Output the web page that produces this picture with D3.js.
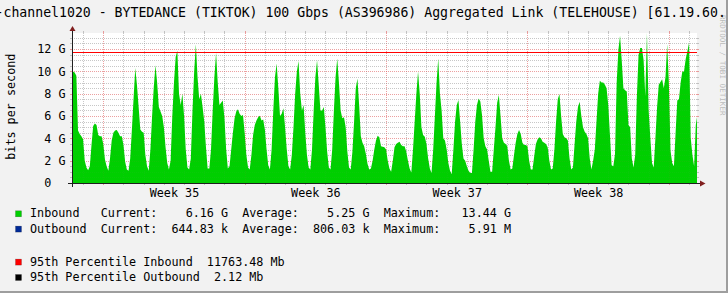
<!DOCTYPE html>
<html>
<head>
<meta charset="utf-8">
<script src="https://cdn.jsdelivr.net/npm/d3@7"></script>
<style>
  html, body { margin: 0; padding: 0; background: #f2f2f2; }
  svg { display: block; }
  text { font-family: 'DejaVu Sans Mono', monospace; white-space: pre; }
</style>
</head>
<body>
<svg id="chart" width="728" height="293"></svg>
<script>
// ---- data ---------------------------------------------------------------
const title = '-channel1020 - BYTEDANCE (TIKTOK) 100 Gbps (AS396986) Aggregated Link (TELEHOUSE) [61.19.60.'
const watermark = 'RRDTOOL / TOBI OETIKER'
const yAxisTitle = 'bits per second'

const viewStart = new Date(2024, 7, 24, 10, 50)
const viewEnd = new Date(2024, 8, 24, 9, 26)

// inbound traffic in Gbit/s, one sample every 2 hours from 24 Aug 10:00
const seriesStart = new Date(2024, 7, 24, 10, 0)
const stepHours = 2
const inbound = [
  // Sat 24 Aug (10h..22h)
  10.0, 10.0, 9.9, 9.6, 4.7, 4.4, 4.2,
  // Sun 25
  3.9, 2.0, 1.4, 1.15, 1.5, 3.4, 5.1, 5.34, 5.2, 4.3, 4.2, 4.2,
  // Mon 26
  3.5, 2.1, 1.5, 1.1, 2.2, 3.8, 4.5, 4.7, 4.74, 4.5, 4.2, 4.2,
  // Tue 27
  3.4, 1.9, 1.2, 1.1, 2.2, 4.8, 7.6, 10.3, 8.8, 6.8, 4.8, 4.6,
  // Wed 28
  4.5, 2.5, 1.5, 1.1, 3.0, 6.0, 8.6, 10.56, 9.0, 6.8, 6.4, 6.0,
  // Thu 29
  5.0, 3.2, 1.8, 1.2, 2.0, 6.0, 9.0, 11.3, 11.85, 8.0, 7.0, 8.0,
  // Fri 30
  6.0, 3.0, 1.4, 1.2, 2.2, 6.5, 10.0, 12.44, 9.5, 7.5, 8.0, 6.8,
  // Sat 31
  5.5, 3.2, 1.3, 1.3, 3.0, 6.5, 9.5, 11.67, 9.0, 7.0, 7.2, 7.4,
  // Sun 1 Sep
  5.8, 3.0, 1.3, 1.5, 3.0, 4.5, 5.8, 6.4, 6.6, 6.2, 6.0, 6.1,
  // Mon 2
  4.5, 2.5, 1.4, 1.2, 2.5, 4.3, 5.2, 5.6, 5.9, 6.03, 5.6, 5.7,
  // Tue 3
  4.8, 3.0, 1.6, 1.2, 3.0, 6.5, 9.5, 10.7, 8.5, 6.0, 6.2, 6.7,
  // Wed 4
  5.0, 3.0, 1.5, 1.2, 2.5, 5.0, 8.0, 10.0, 10.93, 8.0, 6.5, 7.0,
  // Thu 5
  4.5, 2.5, 1.4, 1.2, 3.0, 6.5, 9.5, 11.0, 8.8, 6.5, 6.5, 6.8,
  // Fri 6
  5.0, 2.8, 1.4, 1.2, 3.0, 6.5, 9.5, 11.16, 9.0, 6.5, 5.8, 5.9,
  // Sat 7
  5.0, 2.8, 1.4, 1.2, 2.8, 5.5, 8.5, 9.37, 7.0, 4.2, 3.6, 3.3,
  // Sun 8
  2.6, 1.7, 1.2, 1.3, 2.0, 3.0, 3.8, 4.24, 4.1, 3.3, 3.25, 3.2,
  // Mon 9
  3.0, 2.0, 1.3, 1.0, 2.0, 3.2, 3.5, 3.6, 3.7, 3.4, 3.3, 3.3,
  // Tue 10
  2.8, 2.0, 1.3, 0.95, 3.0, 5.5, 8.0, 10.0, 8.0, 5.0, 4.3, 4.15,
  // Wed 11
  3.5, 2.2, 1.3, 0.9, 3.0, 6.0, 9.0, 11.16, 8.0, 6.5, 4.0, 3.8,
  // Thu 12
  3.0, 1.8, 1.1, 0.8, 3.0, 5.5, 7.0, 7.43, 5.5, 3.5, 2.2, 2.0,
  // Fri 13
  1.5, 1.1, 0.9, 0.9, 3.0, 5.5, 7.0, 7.58, 7.3, 6.1, 4.0, 3.3,
  // Sat 14
  3.0, 2.0, 1.0, 1.0, 3.0, 5.0, 7.2, 7.88, 6.0, 4.0, 3.6, 3.5,
  // Sun 15
  3.3, 2.0, 1.2, 1.3, 2.5, 3.6, 4.4, 4.74, 4.4, 3.6, 3.4, 3.4,
  // Mon 16
  3.3, 2.0, 1.2, 1.2, 2.4, 3.5, 3.9, 4.09, 4.0, 3.7, 3.6, 3.5,
  // Tue 17
  3.2, 2.0, 1.2, 1.3, 3.0, 5.5, 7.5, 7.97, 6.0, 4.4, 4.1, 4.0,
  // Wed 18
  3.8, 2.2, 1.2, 1.4, 3.5, 5.5, 6.8, 7.28, 6.0, 5.0, 4.6, 4.4,
  // Thu 19
  4.0, 2.2, 1.2, 2.0, 3.0, 5.5, 8.0, 9.16, 9.0, 9.0, 8.8, 8.5,
  // Fri 20
  7.0, 4.3, 1.6, 1.5, 2.6, 9.0, 11.9, 13.2, 11.0, 8.5, 8.3, 8.2,
  // Sat 21
  5.2, 5.0, 2.2, 1.4, 2.5, 7.8, 11.5, 12.1, 12.1, 11.0, 7.8, 13.44,
  // Sun 22
  6.5, 4.0, 1.8, 1.4, 4.0, 6.8, 8.8, 9.04, 9.3, 8.5, 9.5, 12.44,
  // Mon 23
  9.0, 2.9, 1.8, 1.5, 4.5, 7.4, 7.5, 9.0, 10.0, 10.0, 11.1, 11.8,
  // Tue 24 (0h..10h)
  12.56, 4.0, 2.5, 1.5, 5.2, 6.16
]

const yMax = 13.44
const yTicks = [0, 2, 4, 6, 8, 10, 12]
const yTickLabels = ['0  ', '2 G', '4 G', '6 G', '8 G', '10 G', '12 G']

const percentile95In = 11.76348   // Gbit/s
const percentile95Out = 0.00212   // Gbit/s

const legendNames = ['Inbound', 'Outbound']
const legendColors = ['#00cf00', '#002a97']
const currentValues = ['6.16 G', '644.83 k']
const averageValues = ['5.25 G', '806.03 k']
const maximumValues = ['13.44 G', '5.91 M']
const percentileLabels = ['95th Percentile Inbound  11763.48 Mb', '95th Percentile Outbound  2.12 Mb']
const percentileColors = ['#ff0000', '#000000']

// ---- layout -------------------------------------------------------------
const W = 728, H = 293
const X0 = 72, X1 = 697, Y0 = 183, Y1 = 33
const MINOR = 'rgba(143,143,143,0.45)'
const MAJOR = 'rgba(222,79,79,0.5)'

const svg = d3.select('#chart')

svg.append('rect').attr('width', W).attr('height', H).attr('fill', '#f2f2f2')
svg.append('rect')
  .attr('x', X0).attr('y', Y1)
  .attr('width', X1 - X0).attr('height', Y0 - Y1)
  .attr('fill', '#ffffff')

svg.append('defs').append('clipPath').attr('id', 'plot')
  .append('rect')
  .attr('x', X0).attr('y', Y1)
  .attr('width', X1 - X0).attr('height', Y0 - Y1)

const x = d3.scaleTime().domain([viewStart, viewEnd]).range([X0, X1])
const y = d3.scaleLinear().domain([0, yMax]).range([Y0, Y1])

const points = inbound.map((v, i) => ({
  t: d3.timeHour.offset(seriesStart, i * stepHours),
  v
}))

const hGrid = d3.range(0.5, yMax, 0.5).map(v => ({ p: y(v), major: v % 2 === 0 }))
const vGrid = d3.timeDay.range(d3.timeDay.ceil(viewStart), viewEnd)
  .map(d => ({ p: x(d), major: d.getDay() === 1 }))

// grid: solid 2px stubs outside the canvas, dotted inside
function drawGrid (opacity) {
  const grid = svg.append('g')
    .attr('shape-rendering', 'crispEdges')
    .attr('opacity', opacity)

  vGrid.forEach(({ p, major }) => {
    const col = major ? MAJOR : MINOR
    const xx = Math.round(p) + 0.5
    grid.append('line').attr('x1', xx).attr('x2', xx).attr('y1', Y1 - 2).attr('y2', Y1).attr('stroke', col)
    grid.append('line').attr('x1', xx).attr('x2', xx).attr('y1', Y0).attr('y2', Y0 + 2).attr('stroke', col)
    grid.append('line').attr('x1', xx).attr('x2', xx).attr('y1', Y1).attr('y2', Y0)
      .attr('stroke', col).attr('stroke-dasharray', '1,1')
  })

  hGrid.forEach(({ p, major }) => {
    const col = major ? MAJOR : MINOR
    const yy = Math.round(p) + 0.5
    grid.append('line').attr('x1', X0 - 2).attr('x2', X0).attr('y1', yy).attr('y2', yy).attr('stroke', col)
    grid.append('line').attr('x1', X1).attr('x2', X1 + 2).attr('y1', yy).attr('y2', yy).attr('stroke', col)
    grid.append('line').attr('x1', X0).attr('x2', X1).attr('y1', yy).attr('y2', yy)
      .attr('stroke', col).attr('stroke-dasharray', '1,1')
  })
}

drawGrid(1)

const area = d3.area()
  .x(d => x(d.t))
  .y0(Y0)
  .y1(d => y(d.v))

svg.append('path')
  .datum(points)
  .attr('clip-path', 'url(#plot)')
  .attr('fill', '#00cf00')
  .attr('d', area)

// faint grid showing through the area
drawGrid(0.15)

// percentile rules
svg.append('line')
  .attr('x1', X0).attr('x2', X1)
  .attr('y1', Math.round(y(percentile95In)) + 0.5)
  .attr('y2', Math.round(y(percentile95In)) + 0.5)
  .attr('stroke', percentileColors[0])
  .attr('shape-rendering', 'crispEdges')
svg.append('line')
  .attr('x1', X0).attr('x2', X1)
  .attr('y1', Math.round(y(percentile95Out)) + 0.5)
  .attr('y2', Math.round(y(percentile95Out)) + 0.5)
  .attr('stroke', percentileColors[1])
  .attr('shape-rendering', 'crispEdges')

// axes with arrows
svg.append('line')
  .attr('x1', X0 - 4).attr('x2', X1 + 4).attr('y1', Y0 + 0.5).attr('y2', Y0 + 0.5)
  .attr('stroke', '#1f1f1f').attr('shape-rendering', 'crispEdges')
svg.append('line')
  .attr('x1', X0 + 0.5).attr('x2', X0 + 0.5).attr('y1', Y0 + 4).attr('y2', Y1 - 3)
  .attr('stroke', '#1f1f1f').attr('shape-rendering', 'crispEdges')
svg.append('path')
  .attr('d', `M${X1 + 3},${Y0 - 2.5}L${X1 + 8.5},${Y0 + 0.5}L${X1 + 3},${Y0 + 3.5}Z`)
  .attr('fill', '#801f1f')
svg.append('path')
  .attr('d', `M${X0 - 2.5},${Y1 - 2}L${X0 + 0.5},${Y1 - 7}L${X0 + 3.5},${Y1 - 2}Z`)
  .attr('fill', '#801f1f')

// tick labels
const weekMids = d3.timeMonday.range(d3.timeMonday.floor(viewStart), viewEnd)
  .map(d => d3.timeHour.offset(d, 84))
  .filter(d => d > viewStart && d < viewEnd)

svg.append('g')
  .attr('transform', `translate(0,${Y0})`)
  .call(d3.axisBottom(x).tickValues(weekMids).tickFormat(d3.timeFormat('Week %V')).tickSize(0).tickPadding(6))
  .call(g => g.select('.domain').remove())
  .call(g => g.selectAll('text')
    .attr('font-family', "'DejaVu Sans Mono', monospace")
    .attr('font-size', '11.75px').attr('fill', '#000'))
  .attr('font-family', null).attr('font-size', null)

svg.append('g')
  .attr('transform', `translate(${X0},0)`)
  .call(d3.axisLeft(y).tickValues(yTicks).tickFormat((d, i) => yTickLabels[i]).tickSize(0).tickPadding(6.5))
  .call(g => g.select('.domain').remove())
  .call(g => g.selectAll('text')
    .attr('font-family', "'DejaVu Sans Mono', monospace")
    .attr('font-size', '11.75px').attr('fill', '#000'))
  .attr('font-family', null).attr('font-size', null)

// titles
svg.append('text')
  .attr('x', -4.5).attr('y', 17.3)
  .attr('font-size', '13.2px')
  .attr('fill', '#000')
  .text(title)

svg.append('text')
  .attr('transform', 'translate(15,106.7) rotate(-90)')
  .attr('text-anchor', 'middle')
  .attr('font-size', '11.75px')
  .attr('fill', '#000')
  .text(yAxisTitle)

svg.append('text')
  .attr('transform', 'translate(720,15) rotate(90)')
  .attr('font-size', '7.6px')
  .attr('fill', '#000')
  .attr('fill-opacity', 0.25)
  .text(watermark)

// legend
const legendBase = [217.3, 232.6]
legendNames.forEach((name, i) => {
  const line = name.padEnd(10) + 'Current:' + currentValues[i].padStart(10) +
    '  Average:' + averageValues[i].padStart(10) +
    '  Maximum:' + maximumValues[i].padStart(10)
  svg.append('rect')
    .attr('x', 15.5).attr('y', legendBase[i] - 6.5).attr('width', 6).attr('height', 6)
    .attr('fill', legendColors[i]).attr('stroke', 'rgba(0,0,0,0.35)').attr('stroke-width', 0.5)
  svg.append('text')
    .attr('x', 30).attr('y', legendBase[i])
    .attr('font-size', '11.75px').attr('fill', '#000')
    .text(line)
})

const percentileBase = [265.6, 281]
percentileLabels.forEach((label, i) => {
  svg.append('rect')
    .attr('x', 15.5).attr('y', percentileBase[i] - 6.5).attr('width', 6).attr('height', 6)
    .attr('fill', percentileColors[i]).attr('stroke', 'rgba(0,0,0,0.35)').attr('stroke-width', 0.5)
  svg.append('text')
    .attr('x', 30).attr('y', percentileBase[i])
    .attr('font-size', '11.75px').attr('fill', '#000')
    .text(label)
})

// frame shading (bottom / right)
svg.append('rect').attr('x', 0).attr('y', H - 2).attr('width', W).attr('height', 2).attr('fill', '#9e9e9e')
svg.append('rect').attr('x', W - 2).attr('y', 0).attr('width', 2).attr('height', H).attr('fill', '#9e9e9e')
</script>
</body>
</html>
